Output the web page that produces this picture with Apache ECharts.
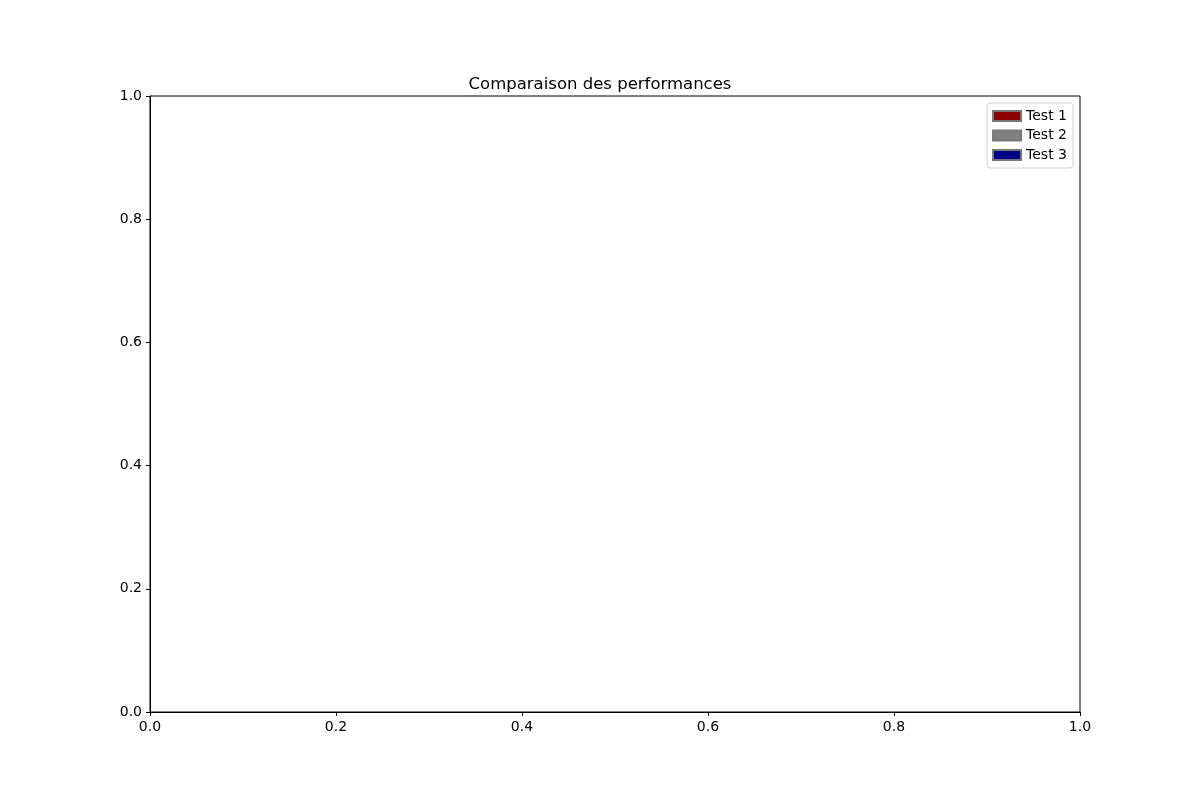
<!DOCTYPE html>
<html><head><meta charset="utf-8">
<script src="https://cdn.jsdelivr.net/npm/echarts@6/dist/echarts.min.js"></script>
<style>html,body{margin:0;padding:0;background:#fff}#c{width:1200px;height:800px}</style>
</head><body><div id="c"></div>
<script>
const seriesNames = ['Test 1', 'Test 2', 'Test 3'];
const seriesColors = ['#8b0000', '#808080', '#00008b'];
const seriesValues = [[], [], []];
const tickValues = [0, 0.2, 0.4, 0.6, 0.8, 1.0];
const font = 'DejaVu Sans';
const axis = () => ({
  type: 'value', min: tickValues[0], max: tickValues[tickValues.length-1], interval: 0.2,
  axisLine: {show: true, onZero: false, lineStyle: {color: '#000', width: 1}},
  axisTick: {show: true, inside: false, length: 4, lineStyle: {color: '#000'}},
  axisLabel: {color: '#000', fontFamily: font, fontSize: 14, formatter: v => v.toFixed(1), margin: 8},
  splitLine: {show: false}
});
const chart = echarts.init(document.getElementById('c'));
chart.setOption({
  animation: false,
  backgroundColor: '#fff',
  title: {text: 'Comparaison des performances', left: 'center', top: 71,
    textStyle: {fontFamily: font, fontSize: 16.5, fontWeight: 'normal', color: '#000'}},
  grid: {left: 150, right: 120, top: 96, bottom: 88, show: true, borderColor: '#000', borderWidth: 1, backgroundColor: 'transparent'},
  xAxis: axis(),
  yAxis: axis(),
  legend: {
    orient: 'vertical', right: 127, top: 103, itemWidth: 28, itemHeight: 10, itemGap: 5.5,
    padding: [6, 6, 6, 5], borderColor: '#d0d0d0', borderWidth: 1, borderRadius: 3,
    textStyle: {fontFamily: font, fontSize: 14, color: '#000'},
    data: seriesNames.map(n => ({name: n, icon: 'rect'}))
  },
  series: seriesNames.map((n, i) => ({
    name: n, type: 'bar', data: seriesValues[i],
    itemStyle: {color: seriesColors[i], borderColor: '#777', borderWidth: 0.3}
  }))
});
</script></body></html>
